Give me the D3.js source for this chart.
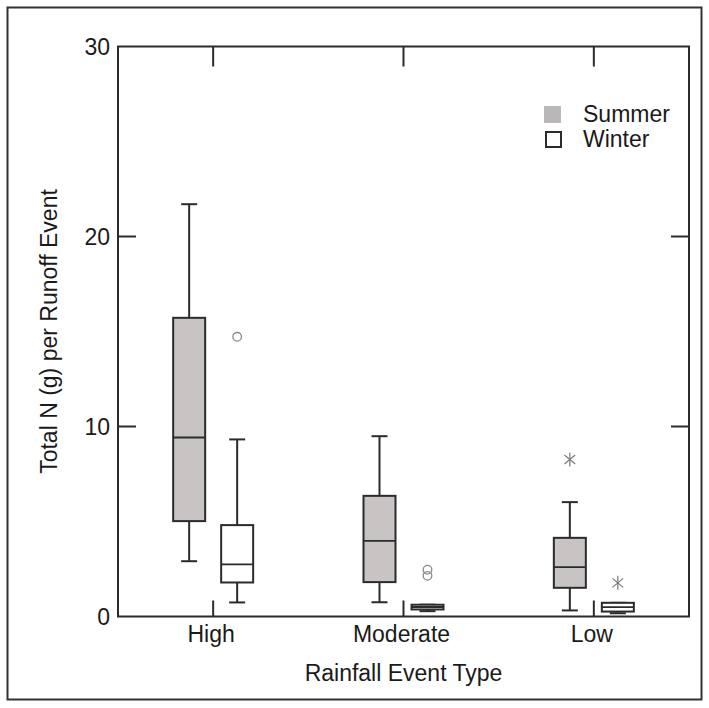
<!DOCTYPE html>
<html>
<head>
<meta charset="utf-8">
<script src="https://cdn.jsdelivr.net/npm/d3@7"></script>
<style>
  html, body { margin: 0; padding: 0; background: #fff; }
  svg { display: block; }
  text { font-family: "Liberation Sans", Arial, sans-serif; fill: #1a1a1a; }
</style>
</head>
<body>
<svg id="chart" width="709" height="708"></svg>
<script>
// ---- data ----
const categories = ["High", "Moderate", "Low"];
const seasons = ["Summer", "Winter"];
// [lower whisker, Q1, median, Q3, upper whisker]
const summerStats = [
  [2.91, 5.02, 9.42, 15.72, 21.7],
  [0.75, 1.81, 3.98, 6.35, 9.49],
  [0.32, 1.51, 2.6, 4.14, 6.02]
];
const winterStats = [
  [0.74, 1.79, 2.74, 4.81, 9.32],
  [0.28, 0.37, 0.5, 0.62, 0.62],
  [0.17, 0.26, 0.49, 0.72, 0.72]
];
// outliers: circles (o) and extreme values (*)
const summerOutliers = [[], [], [{v: 8.26, t: "star"}]];
const winterOutliers = [
  [{v: 14.72, t: "circle"}],
  [{v: 2.46, t: "circle"}, {v: 2.14, t: "circle"}],
  [{v: 1.77, t: "star"}]
];
const yTicks = [0, 10, 20, 30];
const yTitle = "Total N (g) per Runoff Event";
const xTitle = "Rainfall Event Type";

// ---- layout ----
const svg = d3.select("#chart");
const L = 118, R = 689, T = 46.5, B = 616.5;
const FS = 23;
const x = d3.scaleBand().domain(categories).range([L, R]).padding(0);
const y = d3.scaleLinear().domain([0, 30]).range([B, T]);
const offset = d3.scaleOrdinal().domain(seasons).range([-24, 24]);
const fills = {Summer: "#c7c4c3", Winter: "#ffffff"};
const boxW = 32, capW = 8;
const ink = "#2b2b2b";

// outer border
svg.append("rect").attr("x", 7.5).attr("y", 7.5).attr("width", 694).attr("height", 692)
  .attr("fill", "none").attr("stroke", "#333").attr("stroke-width", 2);

// frame
svg.append("rect").attr("x", L).attr("y", T).attr("width", R - L).attr("height", B - T)
  .attr("fill", "none").attr("stroke", ink).attr("stroke-width", 2);

// inner ticks
const cx = c => x(c) + x.bandwidth() / 2;
categories.forEach(c => {
  svg.append("line").attr("x1", cx(c)).attr("x2", cx(c)).attr("y1", B).attr("y2", B - 16)
    .attr("stroke", ink).attr("stroke-width", 2);
  svg.append("line").attr("x1", cx(c)).attr("x2", cx(c)).attr("y1", T).attr("y2", T + 20)
    .attr("stroke", ink).attr("stroke-width", 2);
});
yTicks.filter(t => t > 0 && t < 30).forEach(t => {
  svg.append("line").attr("x1", L).attr("x2", L + 18).attr("y1", y(t)).attr("y2", y(t))
    .attr("stroke", ink).attr("stroke-width", 2);
  svg.append("line").attr("x1", R).attr("x2", R - 18).attr("y1", y(t)).attr("y2", y(t))
    .attr("stroke", ink).attr("stroke-width", 2);
});

// tick labels
svg.selectAll(".ylab").data(yTicks).enter().append("text")
  .attr("x", 110).attr("y", d => y(d)).attr("dy", "0.35em")
  .attr("text-anchor", "end").attr("font-size", FS).text(d => d);
svg.selectAll(".xlab").data(categories).enter().append("text")
  .attr("x", d => cx(d) - 2).attr("y", 642)
  .attr("text-anchor", "middle").attr("font-size", FS).text(d => d);

// titles
svg.append("text").attr("x", (L + R) / 2).attr("y", 681).attr("text-anchor", "middle")
  .attr("font-size", FS).text(xTitle);
svg.append("text").attr("transform", `translate(57,${(T + B) / 2}) rotate(-90)`)
  .attr("text-anchor", "middle").attr("font-size", FS).text(yTitle);

// boxes
function drawBox(stats, cat, season) {
  const c = cx(cat) + offset(season);
  const g = svg.append("g");
  const [lo, q1, md, q3, hi] = stats;
  const sw = 2;
  g.append("line").attr("x1", c).attr("x2", c).attr("y1", y(hi)).attr("y2", y(q3)).attr("stroke", ink).attr("stroke-width", sw);
  g.append("line").attr("x1", c).attr("x2", c).attr("y1", y(q1)).attr("y2", y(lo)).attr("stroke", ink).attr("stroke-width", sw);
  g.append("line").attr("x1", c - capW).attr("x2", c + capW).attr("y1", y(hi)).attr("y2", y(hi)).attr("stroke", ink).attr("stroke-width", sw);
  g.append("line").attr("x1", c - capW).attr("x2", c + capW).attr("y1", y(lo)).attr("y2", y(lo)).attr("stroke", ink).attr("stroke-width", sw);
  g.append("rect").attr("x", c - boxW / 2).attr("y", y(q3)).attr("width", boxW).attr("height", y(q1) - y(q3))
    .attr("fill", fills[season]).attr("stroke", ink).attr("stroke-width", sw);
  g.append("line").attr("x1", c - boxW / 2).attr("x2", c + boxW / 2).attr("y1", y(md)).attr("y2", y(md))
    .attr("stroke", ink).attr("stroke-width", 1.8);
}
function drawOutliers(list, cat, season) {
  const c = cx(cat) + offset(season);
  list.forEach(o => {
    if (o.t === "circle") {
      svg.append("circle").attr("cx", c).attr("cy", y(o.v)).attr("r", 4.3)
        .attr("fill", "none").attr("stroke", "#8a8a8a").attr("stroke-width", 1.3);
    } else {
      const r = 7;
      [90, 40, 140].forEach(a => {
        const rad = a * Math.PI / 180;
        svg.append("line")
          .attr("x1", c - r * Math.cos(rad)).attr("y1", y(o.v) - r * Math.sin(rad))
          .attr("x2", c + r * Math.cos(rad)).attr("y2", y(o.v) + r * Math.sin(rad))
          .attr("stroke", "#7a7a7a").attr("stroke-width", 1.2);
      });
    }
  });
}
categories.forEach((cat, i) => {
  drawBox(summerStats[i], cat, "Summer");
  drawBox(winterStats[i], cat, "Winter");
  drawOutliers(summerOutliers[i], cat, "Summer");
  drawOutliers(winterOutliers[i], cat, "Winter");
});

// legend
svg.append("rect").attr("x", 544).attr("y", 106).attr("width", 17).attr("height", 17).attr("fill", "#b9b7b8");
svg.append("rect").attr("x", 546).attr("y", 132).attr("width", 15).attr("height", 15)
  .attr("fill", "#fff").attr("stroke", ink).attr("stroke-width", 2);
svg.append("text").attr("x", 583).attr("y", 122).attr("font-size", FS).text(seasons[0]);
svg.append("text").attr("x", 583).attr("y", 147).attr("font-size", FS).text(seasons[1]);
</script>
</body>
</html>
